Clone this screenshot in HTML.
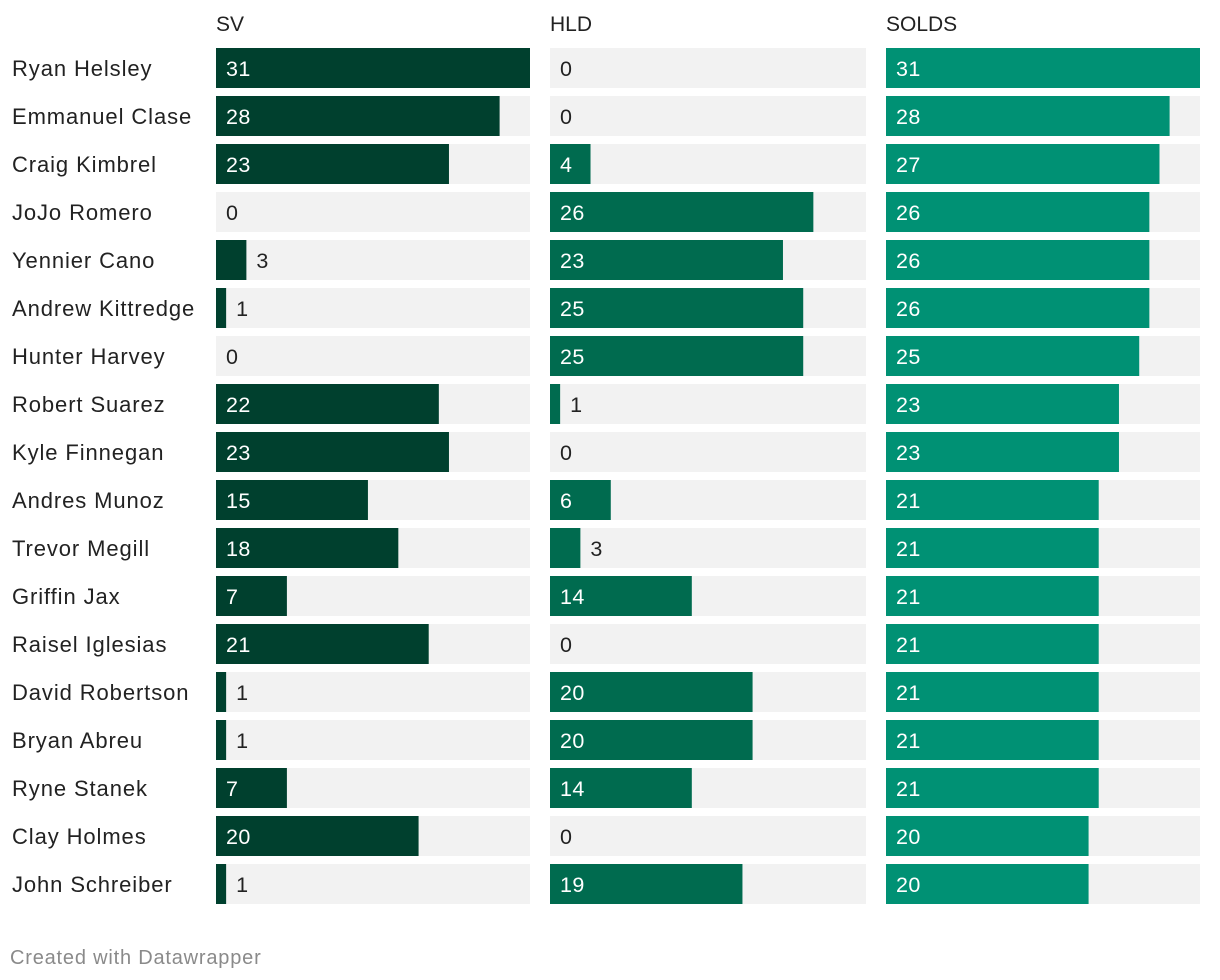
<!DOCTYPE html>
<html><head><meta charset="utf-8">
<style>
body{margin:0;background:#fff;width:1220px;height:980px;overflow:hidden;font-family:"Liberation Sans",sans-serif;}
svg{display:block}
</style></head>
<body>
<svg id="chart" width="1220" height="980"></svg>
<script>
const players=["Ryan Helsley","Emmanuel Clase","Craig Kimbrel","JoJo Romero","Yennier Cano","Andrew Kittredge","Hunter Harvey","Robert Suarez","Kyle Finnegan","Andres Munoz","Trevor Megill","Griffin Jax","Raisel Iglesias","David Robertson","Bryan Abreu","Ryne Stanek","Clay Holmes","John Schreiber"];
const metrics=["SV","HLD","SOLDS"];
const sv=[31,28,23,0,3,1,0,22,23,15,18,7,21,1,1,7,20,1];
const hld=[0,0,4,26,23,25,25,1,0,6,3,14,0,20,20,14,0,19];
const solds=[31,28,27,26,26,26,25,23,23,21,21,21,21,21,21,21,20,20];
const series=[sv,hld,solds];
const colX=[216,550,886], colW=314, maxV=31;
const colors=["#00402e","#006b4f","#009174"];
const NS="http://www.w3.org/2000/svg";
const svg=document.getElementById('chart');
function xs(v){return v/maxV*colW;}
function ys(i){return 48+i*48;}
function mk(t,a){const e=document.createElementNS(NS,t);for(const k in a)e.setAttribute(k,a[k]);svg.appendChild(e);return e;}
metrics.forEach((m,c)=>{
  const t=mk('text',{x:colX[c],y:31,'font-size':21,fill:'#222'});t.textContent=m;
  
  
});
players.forEach((p,i)=>{
  const y=ys(i);
  const t=mk('text',{x:12,y:y+28,'font-size':22,fill:'#222','letter-spacing':0.9});t.textContent=p;
  
  
  series.forEach((s,c)=>{
    const tr=mk('rect',{x:colX[c],y:y,width:c==1?316:colW,height:40,fill:'#f2f2f2'});
    
    
    const w=xs(s[i]);
    const b=mk('rect',{x:colX[c],y:y,width:w,height:40,fill:colors[c]});
    
    
    const inside=w>=35;
    const lx=inside?colX[c]+10:colX[c]+w+10;
    const l=mk('text',{x:lx,y:y+28,'font-size':21.5,fill:inside?'#fff':'#222','letter-spacing':0.4});l.textContent=s[i];
    
    
  });
});
const f=mk('text',{x:10,y:964,'font-size':20,fill:'#8a8a8a','letter-spacing':0.8});f.textContent="Created with Datawrapper";


</script>
</body></html>
